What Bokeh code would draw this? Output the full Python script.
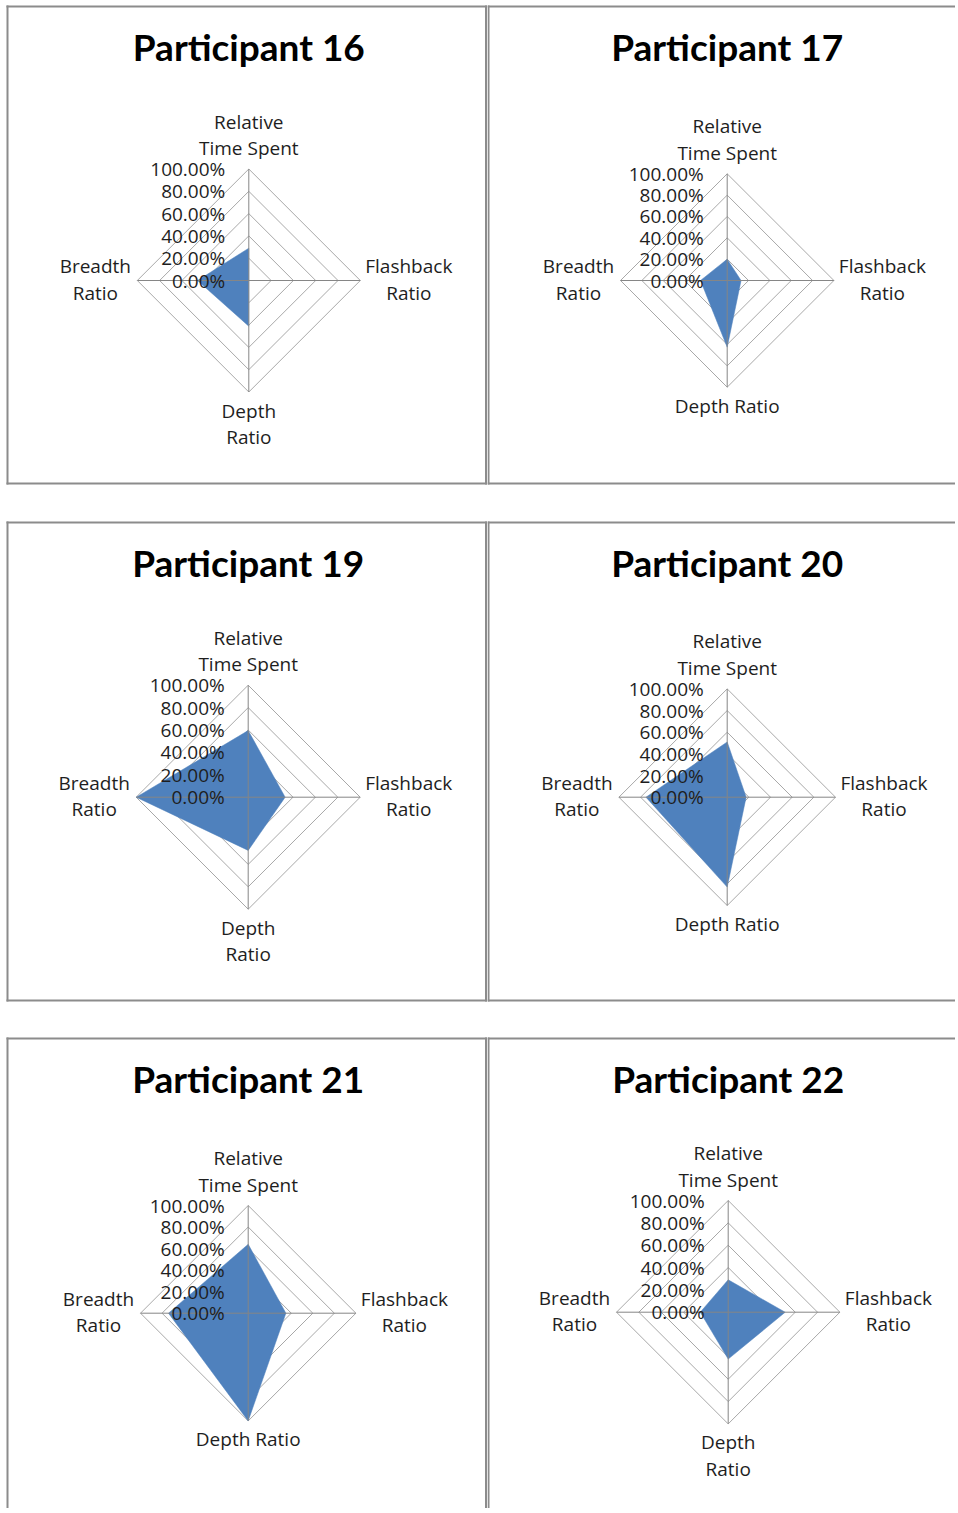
from bokeh.plotting import figure
from bokeh.models import Range1d
from bokeh.layouts import row, column
from bokeh.core.properties import value
from bokeh.embed import file_html
from bokeh.resources import INLINE

# ---------------- data ----------------
participants = ["Participant 16", "Participant 17", "Participant 19",
                "Participant 20", "Participant 21", "Participant 22"]
categories = ["Relative Time Spent", "Flashback Ratio", "Depth Ratio", "Breadth Ratio"]
relative_time = [0.29, 0.20, 0.595, 0.51, 0.64, 0.29]
flashback = [0.0, 0.13, 0.33, 0.175, 0.35, 0.51]
depth = [0.41, 0.625, 0.475, 0.83, 1.0, 0.42]
breadth = [0.46, 0.25, 1.0, 0.75, 0.74, 0.25]
tick_values = [0.0, 0.2, 0.4, 0.6, 0.8, 1.0]
tick_labels = ["0.00%", "20.00%", "40.00%", "60.00%", "80.00%", "100.00%"]
# how each category label is wrapped in each panel
top_label_lines = ["Relative", "Time Spent"]
flash_label_lines = ["Flashback", "Ratio"]
breadth_label_lines = ["Breadth", "Ratio"]
depth_label_lines = [["Depth", "Ratio"], ["Depth Ratio"], ["Depth", "Ratio"],
                     ["Depth Ratio"], ["Depth Ratio"], ["Depth", "Ratio"]]

# ---------------- layout / style ----------------
COL_W = [487, 468]
ROW_H = [516, 516, 476]
CENTERS = [(248.3, 280.0), (239.7, 280.0), (247.7, 280.7),
           (239.7, 280.7), (247.7, 280.7), (240.7, 279.7)]
RADII = [111.5, 106.7, 112.0, 108.3, 107.7, 111.7]
# panel frame edges in pixels inside each figure (None = edge lies off the page)
FRAME_LEFT = [7, 1]
FRAME_RIGHT = [485.5, None]
FRAME_TOP = [6, 6, 6]
FRAME_BOTTOM = [483, 484, None]
TITLE_MIDDLE = 46.0

FILL = "#4F81BD"
RING = "#A8A8A8"
SPOKE = "#868686"
BORDER = "#8C8C8C"
TXT = "#1E1E1E"
LABEL_FONT = value("Open Sans")
TITLE_FONT = value("Lato")
LINE_STEP = 26.5


def make_panel(i, ci, ri):
    W, H = COL_W[ci], ROW_H[ri]
    cx, cy = CENTERS[i]
    R = RADII[i]
    p = figure(width=W, height=H, output_backend="svg", toolbar_location=None,
               x_range=Range1d(-cx / R, (W - cx) / R),
               y_range=Range1d(-(H - cy) / R, cy / R),
               x_axis_location=None, y_axis_location=None,
               min_border=0, min_border_left=0, min_border_right=0,
               min_border_top=0, min_border_bottom=0,
               background_fill_color="white", border_fill_color="white",
               outline_line_color=None)
    p.grid.visible = False

    # rings (diamonds)
    xs, ys = [], []
    for t in tick_values[1:]:
        xs.append([0, t, 0, -t, 0])
        ys.append([t, 0, -t, 0, t])
    p.multi_line(xs, ys, line_color=RING, line_width=1)

    # data polygon: top=time, right=flashback, bottom=depth, left=breadth
    px = [0, flashback[i], 0, -breadth[i]]
    py = [relative_time[i], 0, -depth[i], 0]
    p.patch(px, py, fill_color=FILL, line_color=FILL, line_width=0.5)

    # spokes
    m = tick_values[-1]
    p.segment(x0=[0, 0, 0, 0], y0=[0, 0, 0, 0], x1=[0, m, 0, -m], y1=[m, 0, -m, 0],
              line_color=SPOKE, line_width=1)

    # tick labels
    p.text(x=[-23.5 / R] * len(tick_values), y=tick_values, text=tick_labels,
           text_font=LABEL_FONT, text_font_size="19px", text_color=TXT,
           text_align="right", text_baseline="middle")

    # category labels
    tx, ty, tt = [], [], []
    n = len(top_label_lines)
    for k, s in enumerate(top_label_lines):
        tx.append(0)
        ty.append((R + 21 + (n - 1 - k) * LINE_STEP) / R)
        tt.append(s)
    for k, s in enumerate(depth_label_lines[i]):
        tx.append(0)
        ty.append(-(R + 18.5 + k * LINE_STEP) / R)
        tt.append(s)
    for k, s in enumerate(breadth_label_lines):
        tx.append(-(R + 42) / R)
        ty.append((14.3 - k * LINE_STEP) / R)
        tt.append(s)
    for k, s in enumerate(flash_label_lines):
        tx.append((R + 48.5) / R)
        ty.append((14.3 - k * LINE_STEP) / R)
        tt.append(s)
    p.text(x=tx, y=ty, text=tt, text_font=LABEL_FONT, text_font_size="19px",
           text_color=TXT, text_align="center", text_baseline="middle")

    # title
    p.text(x=[0], y=[(cy - TITLE_MIDDLE) / R], text=[participants[i]], text_font=TITLE_FONT,
           text_font_size="37px", text_font_style="bold", text_color="black",
           text_align="center", text_baseline="middle")

    # panel frame: only the sides that fall on the page, only along the panel
    L = FRAME_LEFT[ci]
    Rt = FRAME_RIGHT[ci] if FRAME_RIGHT[ci] is not None else W + 5
    T = FRAME_TOP[ri]
    B = FRAME_BOTTOM[ri] if FRAME_BOTTOM[ri] is not None else H + 5
    fx = lambda v: (v - cx) / R
    fy = lambda v: (cy - v) / R
    x0, x1, y0, y1 = [], [], [], []
    x0.append(fx(L)); x1.append(fx(Rt)); y0.append(fy(T)); y1.append(fy(T))
    x0.append(fx(L)); x1.append(fx(L)); y0.append(fy(T)); y1.append(fy(B))
    if FRAME_RIGHT[ci] is not None:
        x0.append(fx(Rt)); x1.append(fx(Rt)); y0.append(fy(T)); y1.append(fy(B))
    if FRAME_BOTTOM[ri] is not None:
        x0.append(fx(L)); x1.append(fx(Rt)); y0.append(fy(B)); y1.append(fy(B))
    p.segment(x0=x0, y0=y0, x1=x1, y1=y1, line_color=BORDER, line_width=2,
              line_cap="square")
    return p


panels = [make_panel(i, i % 2, i // 2) for i in range(6)]
layout = column(
    row(panels[0], panels[1]),
    row(panels[2], panels[3]),
    row(panels[4], panels[5]),
)

open("out.html", "w").write(file_html(layout, INLINE))
